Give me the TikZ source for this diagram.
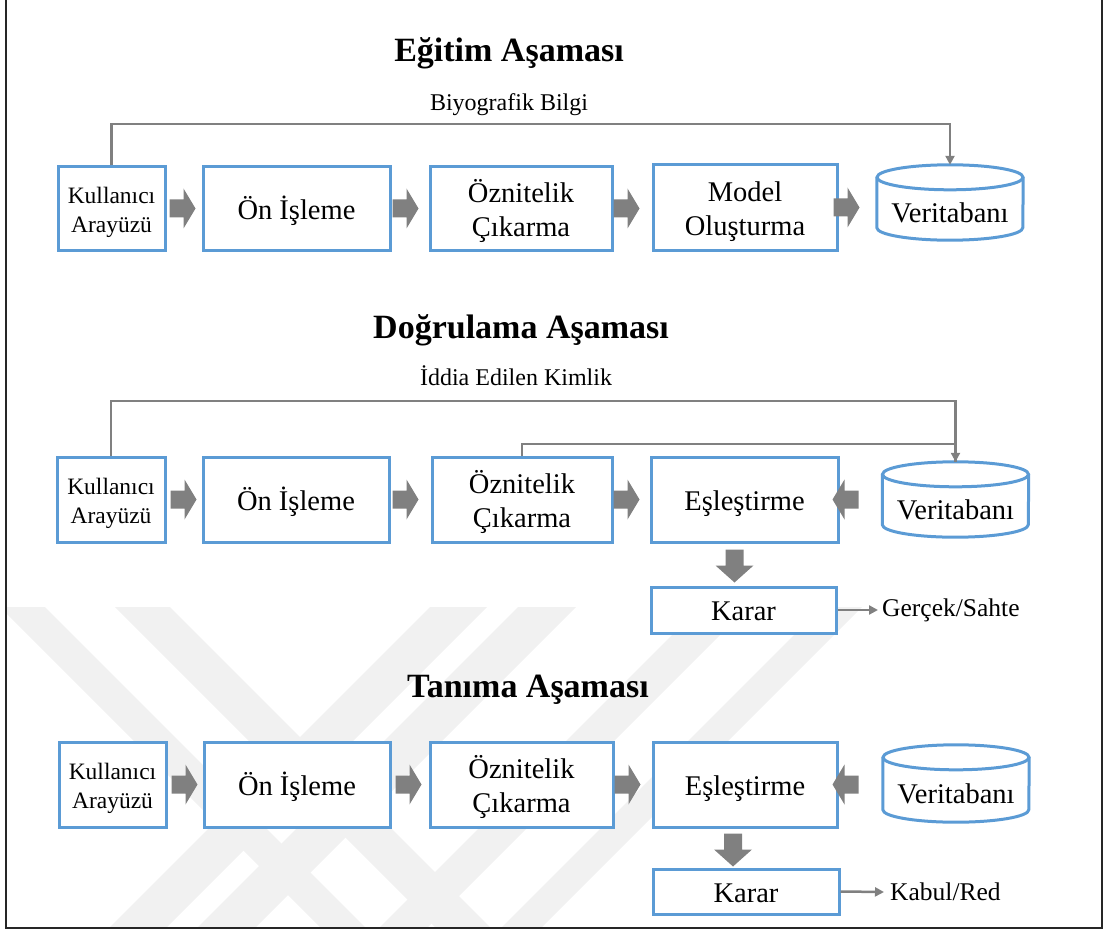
\documentclass[tikz,border=0pt]{standalone}
\usepackage{fontspec}
\setmainfont{Liberation Serif}
\usetikzlibrary{calc,arrows.meta}
\definecolor{boxblue}{HTML}{5B9BD5}
\definecolor{lgray}{HTML}{808080}
\definecolor{agray}{HTML}{808080}
\definecolor{wmgray}{HTML}{F1F1F1}
\newcommand{\tx}[1]{\raisebox{-4pt}[\height][\depth]{\begin{tabular}{@{}c@{}}#1\end{tabular}}}
\newcommand{\dbtx}[1]{\raisebox{-10pt}[\height][\depth]{#1}}
\tikzset{
  box/.style={draw=boxblue, line width=3pt, fill=white, align=center, inner sep=0pt,
    font=\fontsize{28.5}{34.5}\selectfont},
  smallbox/.style={box, font=\fontsize{23.5}{29}\selectfont},
  dbnode/.style={inner sep=0pt, minimum width=146pt, minimum height=75pt,
    font=\fontsize{28.5}{34}\selectfont},
  dbline/.style={draw=boxblue, line width=3pt, fill=white},
  conn/.style={draw=lgray, line width=2.5pt},
  tipped/.style={conn, -{Triangle[length=9pt,width=9pt]}},
  title/.style={font=\fontsize{34}{40}\selectfont\bfseries, inner sep=0pt},
  lab/.style={font=\fontsize{24}{30}\selectfont, inner sep=0pt},
  outlab/.style={font=\fontsize{25.5}{30}\selectfont, inner sep=0pt},
  wm/.style={fill=wmgray, draw=none},
  pics/barR/.style={code={\fill[agray] (-13,-9) -- (1,-9) -- (1,-20) -- (13,0) -- (1,20) -- (1,9) -- (-13,9) -- cycle;}},
  pics/barL/.style={code={\fill[agray] (13,-9) -- (-1,-9) -- (-1,-20) -- (-13,0) -- (-1,20) -- (-1,9) -- (13,9) -- cycle;}},
  pics/barD/.style={code={\fill[agray] (-9,-16) -- (9,-16) -- (9,0) -- (19,0) -- (0,17) -- (-19,0) -- (-9,0) -- cycle;}},
}
\newcommand{\dbdraw}[1]{%
  \draw[dbline] ($(#1.north west)+(0,12.5)$) -- ($(#1.south west)+(0,-12.5)$)
     arc[start angle=180, end angle=360, x radius=73pt, y radius=12.5pt]
     -- ($(#1.north east)+(0,12.5)$);
  \draw[dbline] ($(#1.north)+(0,12.5)$) ellipse [x radius=73pt, y radius=12.5pt];
}
\begin{document}
\begin{tikzpicture}[x=1pt,y=-1pt]
\useasboundingbox (0,0) rectangle (1107,933);
% watermark
\begin{scope}
\clip (6,607) rectangle (1102,928);
\fill[wm] (0,607) -- (45,607) -- (371,933) -- (326,933) -- cycle;
\fill[wm] (115,607) -- (170,607) -- (496,933) -- (441,933) -- cycle;
\fill[wm] (430,607) -- (487,607) -- (161,933) -- (104,933) -- cycle;
\fill[wm] (518,607) -- (576,607) -- (250,933) -- (192,933) -- cycle;
\fill[wm] (700,607) -- (748,607) -- (422,933) -- (374,933) -- cycle;
\fill[wm] (822,607) -- (862,607) -- (536,933) -- (496,933) -- cycle;
\end{scope}
% frame
\draw[line width=1.5pt, black!85] (6,0) -- (6,928) -- (1102,928) -- (1102,0);

% ===== Egitim
\node[title] (t1) at (509,53) {Eğitim Aşaması};
\node[lab] (bb) at (509,105) {Biyografik Bilgi};
\node[smallbox, minimum width=107pt, minimum height=83pt] (k1) at (111.5,208.5) {\tx{Kullanıcı\\Arayüzü}};
\node[box, minimum width=187pt, minimum height=83pt] (o1) at (296.5,208.5) {\tx{Ön İşleme}};
\node[box, minimum width=182pt, minimum height=83pt] (z1) at (521,208.5) {\tx{Öznitelik\\Çıkarma}};
\node[box, minimum width=184pt, minimum height=85pt] (m1) at (745,207.5) {\tx{Model\\Oluşturma}};
\node[dbnode] (db1) at (950,202.5) {};
\dbdraw{db1}
\node[dbnode] at (db1.center) {\dbtx{Veritabanı}};
\pic at ($(k1.east)+(16,0)$) {barR};
\pic at ($(o1.east)+(14,0)$) {barR};
\pic at ($(z1.east)+(13,0)$) {barR};
\pic at ($(m1.east)+(8,0)$) {barR};
\draw[tipped] (k1.north) |- (db1.north |- 0,124) -- (db1.north);

% ===== Dogrulama
\node[title] (t2) at (521,330) {Doğrulama Aşaması};
\node[lab] (ik) at (516,376) {İddia Edilen Kimlik};
\node[smallbox, minimum width=108pt, minimum height=85pt] (k2) at (111,499.5) {\tx{Kullanıcı\\Arayüzü}};
\node[box, minimum width=186pt, minimum height=85pt] (o2) at (296,499.5) {\tx{Ön İşleme}};
\node[box, minimum width=180pt, minimum height=85pt] (z2) at (522,499.5) {\tx{Öznitelik\\Çıkarma}};
\node[box, minimum width=187pt, minimum height=85pt] (e2) at (744.5,499.5) {\tx{Eşleştirme}};
\node[dbnode] (db2) at (955.5,499.5) {};
\dbdraw{db2}
\node[dbnode] at (db2.center) {\dbtx{Veritabanı}};
\node[box, minimum width=185pt, minimum height=46pt] (kr2) at (743.5,610) {\tx{Karar}};
\node[outlab, anchor=west, inner sep=4pt] (gs) at (878,610) {Gerçek/Sahte};
\pic at ($(k2.east)+(17,0)$) {barR};
\pic at ($(o2.east)+(15,0)$) {barR};
\pic at ($(z2.east)+(13,0)$) {barR};
\pic at ($(e2.east)+(6,0)$) {barL};
\pic at ($(e2.south)+(-10,22)$) {barD};
\draw[conn] (k2.north) |- (db2.north |- 0,401) -- (db2.north);
\draw[tipped] (z2.north) |- (db2.north |- 0,444) -- (db2.north);
\draw[tipped] (kr2.east) -- (gs.west);

% ===== Tanima
\node[title] (t3) at (528,690) {Tanıma Aşaması};
\node[smallbox, minimum width=107pt, minimum height=85pt] (k3) at (112.5,784.5) {\tx{Kullanıcı\\Arayüzü}};
\node[box, minimum width=186pt, minimum height=85pt] (o3) at (297,784.5) {\tx{Ön İşleme}};
\node[box, minimum width=183pt, minimum height=85pt] (z3) at (521.5,784.5) {\tx{Öznitelik\\Çıkarma}};
\node[box, minimum width=184pt, minimum height=85pt] (e3) at (745,784.5) {\tx{Eşleştirme}};
\node[dbnode, minimum height=77pt] (db3) at (956,783.5) {};
\dbdraw{db3}
\node[dbnode] at (db3.center) {\dbtx{Veritabanı}};
\node[box, minimum width=186pt, minimum height=45pt] (kr3) at (746,891.5) {\tx{Karar}};
\node[outlab, anchor=west, inner sep=6pt] (kr) at (884,892) {Kabul/Red};
\pic at ($(k3.east)+(17,0)$) {barR};
\pic at ($(o3.east)+(17,0)$) {barR};
\pic at ($(z3.east)+(13,0)$) {barR};
\pic at ($(e3.east)+(7,0)$) {barL};
\pic at ($(e3.south)+(-12,21)$) {barD};
\draw[tipped] (kr3.east) -- (kr.west);
\end{tikzpicture}
\end{document}
